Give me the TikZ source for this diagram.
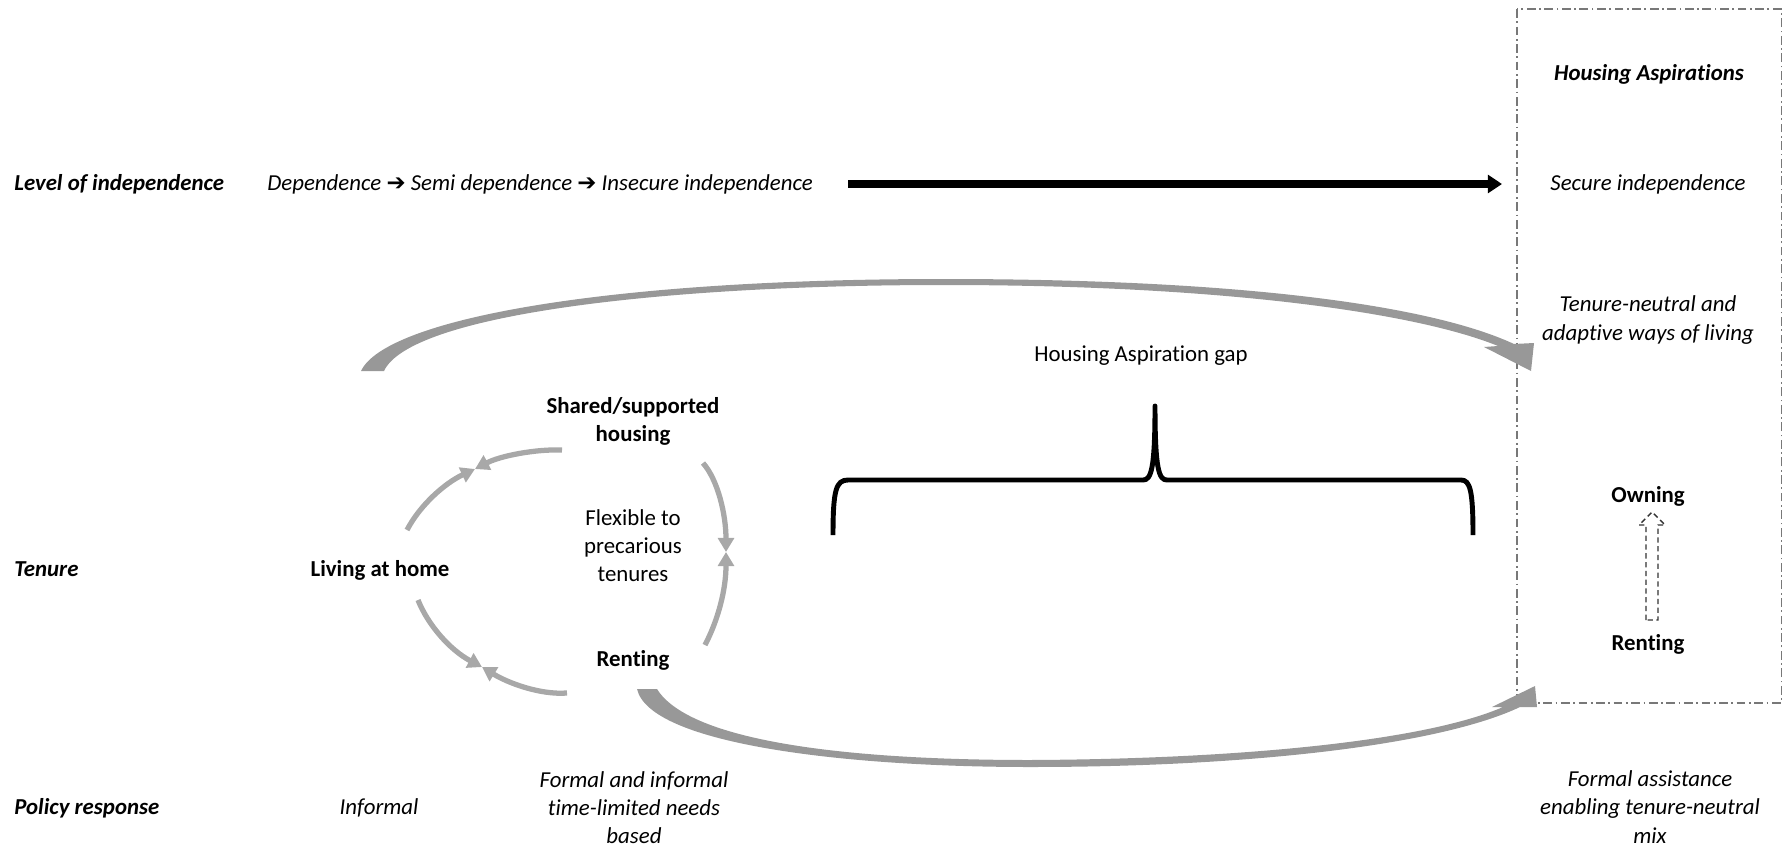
\documentclass[tikz,border=0pt]{standalone}
\usepackage{fontspec}
\setmainfont{Carlito}[RawFeature={-liga;-clig;-calt;-dlig}]
\newfontfamily\arrowfnt{DejaVu Sans}
\usetikzlibrary{arrows.meta,calc}
\definecolor{arcgrey}{RGB}{168,168,168}
\definecolor{bandgrey}{RGB}{152,152,152}
\definecolor{boxgrey}{RGB}{120,120,120}
\newcommand{\stepto}{{\arrowfnt\bfseries\char"2794}}

\begin{document}
\begin{tikzpicture}[x=0.02cm,y=-0.02cm,
    every node/.style={inner sep=0pt,font=\fontsize{13}{16}\selectfont},
    row label/.style={anchor=west,font=\fontsize{13}{16}\selectfont\bfseries\itshape},
    aim/.style={align=center,font=\fontsize{13}{16}\selectfont\itshape},
    tenure/.style={align=center,font=\fontsize{13}{16}\selectfont\bfseries},
    cyclearc/.style={draw=arcgrey,line width=3pt,-{Triangle[length=8pt,width=9pt]}},
    band/.style={fill=bandgrey,draw=none}]
\useasboundingbox (0,0) rectangle (1784,852);

\node[row label] (lev) at (14,184) {Level of independence};
\node[row label] (ten) at (14,569) {Tenure};
\node[row label] (pol) at (14,808) {Policy response};

\node[aim,anchor=west] (dep) at (267,184) {Dependence \stepto\ Semi dependence \stepto\ Insecure independence};
\node[aim,font=\fontsize{13}{16}\selectfont\bfseries\itshape] (asp) at (1649,74) {Housing Aspirations};
\node[aim] (secure) at (1648,184) {Secure independence};
\node[aim] (neutral) at (1648,320) {Tenure-neutral and\\adaptive ways of living};
\node (gap) at (1141,356) {Housing Aspiration gap};

\node[tenure] (shared) at (633,421) {Shared/supported\\housing};
\node[align=center] (flex) at (633,546) {Flexible to\\precarious\\tenures};
\node[tenure] (home) at (380,570) {Living at home};
\node[tenure] (rentL) at (633,660) {Renting};
\node[tenure] (own) at (1648,496) {Owning};
\node[tenure] (rentR) at (1648,644) {Renting};

\node[aim] (informal) at (379,808) {Informal};
\node[aim] (formal) at (634,808) {Formal and informal\\time-limited needs\\based};
\node[aim] (assist) at (1650,807) {Formal assistance\\enabling tenure-neutral\\mix};

\draw[boxgrey,line width=0.6pt,dash pattern=on 5pt off 2pt on 1pt off 2pt]
  (1517,9) rectangle (1781,703);

\coordinate (indA) at (848,184);
\coordinate (indB) at (1502,184);
\draw[line width=4pt,-{Triangle[length=8pt,width=10pt]}] (indA) -- (indB);

\fill[band] (361,371) .. controls (385,320) and (600,279) .. (944,279)
  .. controls (1240,279) and (1430,305) .. (1514,344) -- (1534,343) -- (1531,371)
  -- (1484,347) -- (1498,346) .. controls (1420,314) and (1230,285) .. (944,285)
  .. controls (660,285) and (410,315) .. (384,371) -- cycle;
\fill[band] (637,689) .. controls (650,745) and (850,767) .. (1030,767)
  .. controls (1250,767) and (1440,745) .. (1520,707) -- (1537,707) -- (1535,686)
  -- (1492,707) -- (1503,707) .. controls (1425,741) and (1240,759) .. (1030,760)
  .. controls (850,760) and (690,742) .. (657,689) -- cycle;

\coordinate (a1) at (407,530);
\coordinate (a2) at (562,450);
\coordinate (m1) at (475,469);
\coordinate (b1) at (703,463);
\coordinate (b2) at (705,645);
\coordinate (m2) at (726,552);
\coordinate (c1) at (418,600);
\coordinate (c2) at (567,693);
\coordinate (m3) at (482,667);
\draw[cyclearc] (a1) .. controls (420,505) and (445,483) .. (m1);
\draw[cyclearc] (a2) .. controls (535,449) and (500,456) .. (m1);
\draw[cyclearc] (b1) .. controls (718,480) and (726,515) .. (m2);
\draw[cyclearc] (b2) .. controls (718,620) and (726,590) .. (m2);
\draw[cyclearc] (c1) .. controls (428,625) and (450,650) .. (m3);
\draw[cyclearc] (c2) .. controls (540,695) and (508,683) .. (m3);

\draw[line width=2.8pt,line join=round]
  (833,535) .. controls (833,490) and (836,480) .. (848,480) -- (1143,480)
  .. controls (1151,480) and (1155,470) .. (1155,406)
  .. controls (1155,470) and (1159,480) .. (1167,480) -- (1461,480)
  .. controls (1470,480) and (1473,490) .. (1473,535);

\coordinate (upfoot) at (1652,620);
\coordinate (uptip) at (1652,512);
\draw[black!80,line width=0.8pt,dashed,dash pattern=on 3pt off 2pt]
  ($(upfoot)+(-6,0)$) -- ($(uptip)+(-6,13)$) -- ($(uptip)+(-13,13)$) -- (uptip)
  -- ($(uptip)+(13,13)$) -- ($(uptip)+(6,13)$) -- ($(upfoot)+(6,0)$) -- cycle;
\end{tikzpicture}
\end{document}
